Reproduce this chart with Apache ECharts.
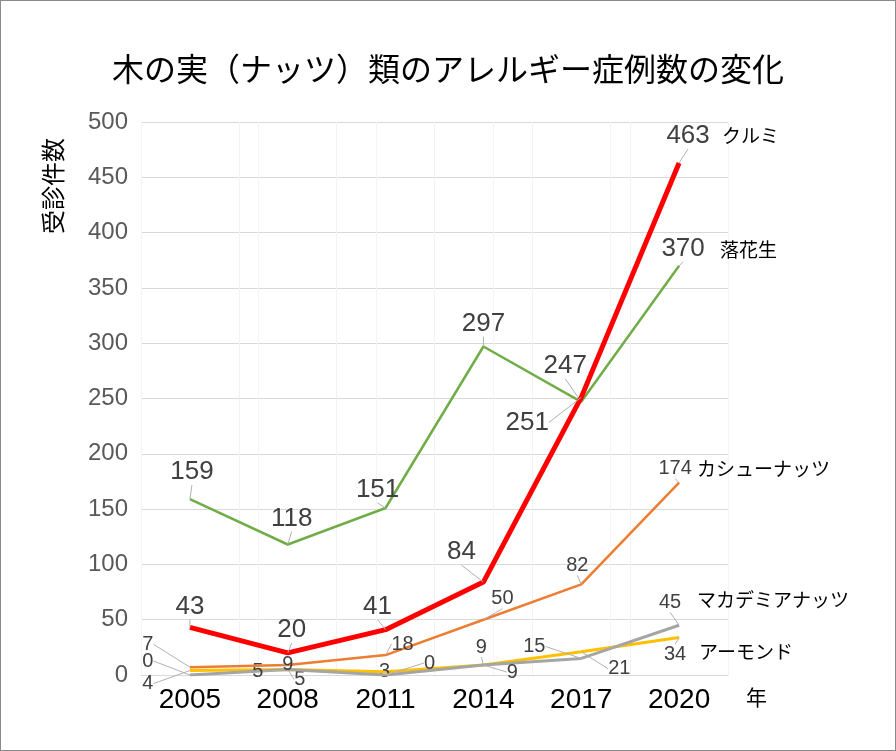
<!DOCTYPE html>
<html><head><meta charset="utf-8">
<script src="https://cdn.jsdelivr.net/npm/echarts@6/dist/echarts.min.js"></script>
<style>
html,body{margin:0;padding:0;background:#fff;}
#c{width:896px;height:751px;box-sizing:border-box;border:1px solid #8a8a8a;}
</style></head>
<body><div id="c"></div>
<script>
// ---- data ----
const years = ['2005','2008','2011','2014','2017','2020'];
const yTicks = [0,50,100,150,200,250,300,350,400,450,500];
const kurumi = [43, 20, 41, 84, 251, 463];
const rakkasei = [159, 118, 151, 297, 247, 370];
const cashew = [7, 9, 18, 50, 82, 174];
const macadamia = [0, 5, 0, 9, 15, 45];
const almond = [4, 5, 3, 9, 21, 34];
const names = ['クルミ','落花生','カシューナッツ','マカデミアナッツ','アーモンド'];

// ---- label placement (px shifts from point) ----
const labelShift = [
  [[0,-21],[4,-23],[-8,-23],[-22,-30],[-54,25],[9,-27]],
  [[2,-27],[4,-26],[-8,-18],[0,-23],[-16,-36],[4,-17]],
  [[-42,-23],[0,-1],[17,-11],[19,-21],[-4,-19],[-4,-14]],
  [[-42,-14],[-30,2],[44,-12],[29,7],[-47,-12],[-9,-23]],
  [[-42,13],[12,10],[-1,0],[-2,-18],[38,17],[-4,17]]
];
const endShift = [[40,-27],[38,-16],[15,-14],[15,-25],[17,14]];
const colors = ['#ff0000','#70ad47','#ed7d31','#a5a5a5','#ffc000'];
const widths = [5,2.5,2.5,3,3];
const labelSizes = [26,26,20,20,20];
const FONT = '"Liberation Sans", Arial, "Noto Sans CJK JP", sans-serif';
const JFONT = '"Noto Sans CJK JP", sans-serif';

const allData = [kurumi, rakkasei, cashew, macadamia, almond];
const series = allData.map((d, i) => ({
  name: names[i],
  type: 'line',
  data: d,
  z: 10 - i,
  symbol: 'circle',
  symbolSize: 0.1,
  lineStyle: {color: colors[i], width: widths[i]},
  itemStyle: {color: colors[i]},
  label: {show: true, position: 'inside', color: '#404040', fontSize: labelSizes[i], fontFamily: FONT},
  labelLine: {show: true, lineStyle: {color: '#b0b0b0', width: 1}},
  labelLayout: function (p) {
    const row = labelShift[i];
    const s = row && typeof p.dataIndex === 'number' ? row[p.dataIndex] : null;
    if (!s || p.text === names[i]) return {};
    return {dx: s[0], dy: s[1]};
  },
  endLabel: {show: true, formatter: '{a}', color: '#000', fontSize: 19, fontFamily: JFONT,
             offset: [endShift[i][0] - 5, endShift[i][1]], align: 'left'},
  emphasis: {disabled: true},
  animation: false
}));

const chart = echarts.init(document.getElementById('c'));
chart.setOption({
  animation: false,
  title: {text: '木の実（ナッツ）類のアレルギー症例数の変化', left: 'center', top: 47,
    textStyle: {fontFamily: JFONT, fontSize: 32, fontWeight: 'normal', color: '#000'}},
  grid: {left: 140, right: 167, top: 121, bottom: 75, containLabel: false},
  xAxis: [{
    type: 'category', data: years, boundaryGap: true,
    axisLine: {show: true, lineStyle: {color: '#d9d9d9'}},
    axisTick: {show: false},
    splitLine: {show: true, lineStyle: {color: '#f2f2f2'}},
    axisLabel: {color: '#000', fontSize: 28, fontFamily: FONT, margin: 11},
    name: '年', nameLocation: 'end', nameGap: 18,
    nameTextStyle: {color: '#000', fontSize: 21, fontFamily: JFONT, verticalAlign: 'top', padding: [12,0,0,0]}
  },{
    type: 'category', data: years, boundaryGap: false, position: 'bottom',
    axisLine: {show: false}, axisTick: {show: false}, axisLabel: {show: false},
    splitLine: {show: true, lineStyle: {color: '#f4f4f4'}}
  }],
  yAxis: {
    type: 'value', min: yTicks[0], max: yTicks[yTicks.length-1], interval: 50,
    axisLine: {show: false}, axisTick: {show: false},
    splitLine: {show: true, lineStyle: {color: '#d9d9d9'}},
    axisLabel: {color: '#595959', fontSize: 24, fontFamily: FONT, margin: 13}
  },
  graphic: [{
    type: 'text', x: 40, y: 233, rotation: Math.PI / 2,
    style: {text: '受診件数', fontSize: 24, fontFamily: JFONT, fill: '#000'}
  }],
  series: series
});
</script></body></html>
